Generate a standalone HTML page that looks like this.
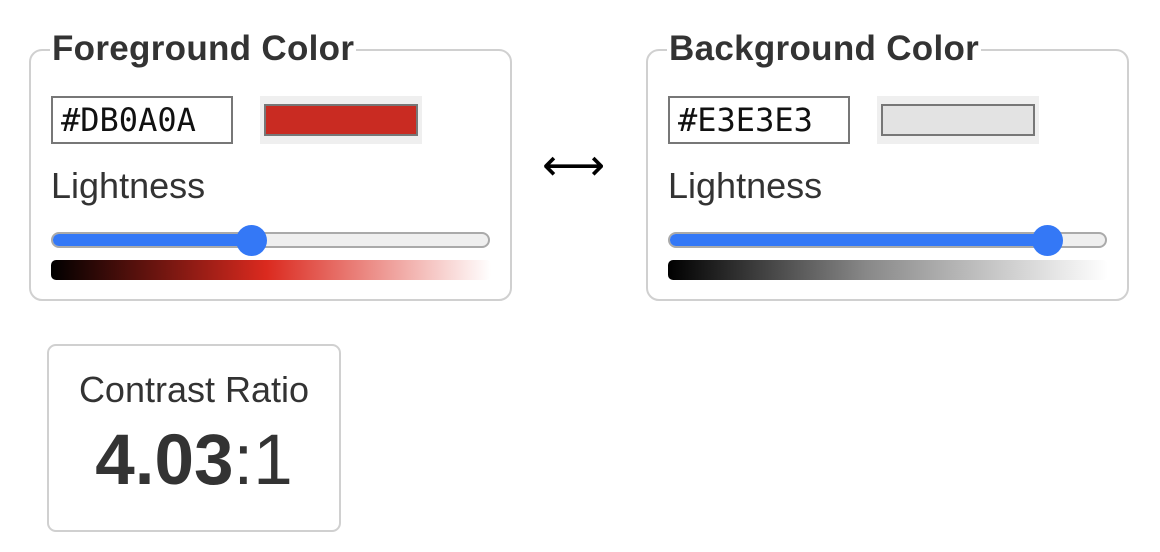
<!DOCTYPE html>
<html><head><meta charset="utf-8">
<style>
body{margin:0;width:1160px;height:552px;background:#fff;font-family:"Liberation Sans",sans-serif;color:#333;position:relative;overflow:hidden}
.abs{position:absolute}
.fs{position:absolute;top:49px;width:479px;height:248px;border:2px solid #d0d0d0;border-radius:13px}
.leg{position:absolute;top:-20px;left:19px;background:#fff;padding:0 2px;font-weight:bold;font-size:35px;line-height:36px;color:#333;white-space:nowrap;letter-spacing:0.3px}
.hex{position:absolute;left:20px;top:45px;border:2px solid #777;font-family:"DejaVu Sans Mono","Liberation Mono",monospace;font-size:32px;line-height:44px;padding-left:8px;box-sizing:border-box;width:182px;height:48px;color:#111}
.sw{position:absolute;left:229px;top:45px;width:162px;height:48px;background:#efefef}
.sw div{position:absolute;left:4px;top:8px;width:154px;height:32px;border:2px solid #777;box-sizing:border-box}
.lt{position:absolute;left:20px;top:114px;font-size:36px;color:#333}
.track{position:absolute;left:20px;top:181px;width:439px;height:16px;border:2px solid #aaa;border-radius:9px;background:#efefef;box-sizing:border-box;overflow:hidden}
.fill{position:absolute;left:0;top:0;height:100%;background:#3478f6}
.thumb{position:absolute;top:174px;width:31px;height:31px;border-radius:50%;background:#3478f6}
.grad{position:absolute;left:20px;top:209px;width:440px;height:20px;border-radius:5px}
</style></head><body>
<div class="fs" style="left:29px">
 <div class="leg">Foreground Color</div>
 <div class="hex">#DB0A0A</div>
 <div class="sw"><div style="background:#c92b22"></div></div>
 <div class="lt">Lightness</div>
 <div class="track"><div class="fill" style="width:200px"></div></div>
 <div class="thumb" style="left:205px"></div>
 <div class="grad" style="background:linear-gradient(90deg,#000 0%,#db2a1f 49%,#fff 100%)"></div>
</div>
<div class="abs" style="left:542px;top:140px;font-size:44px;color:#000;font-family:'DejaVu Sans',sans-serif">⟷</div>
<div class="fs" style="left:646px">
 <div class="leg">Background Color</div>
 <div class="hex">#E3E3E3</div>
 <div class="sw"><div style="background:#e3e3e3"></div></div>
 <div class="lt">Lightness</div>
 <div class="track"><div class="fill" style="width:380px"></div></div>
 <div class="thumb" style="left:384px"></div>
 <div class="grad" style="background:linear-gradient(90deg,#000 0%,#888 45%,#fff 100%)"></div>
</div>
<div class="abs" style="left:47px;top:344px;width:294px;height:188px;border:2px solid #d0d0d0;border-radius:9px;box-sizing:border-box;text-align:center">
 <div style="margin-top:23px;font-size:36px;line-height:42px">Contrast Ratio</div>
 <div style="margin-top:12px;font-size:71px;line-height:76px"><b>4.03</b>:1</div>
</div>
</body></html>
